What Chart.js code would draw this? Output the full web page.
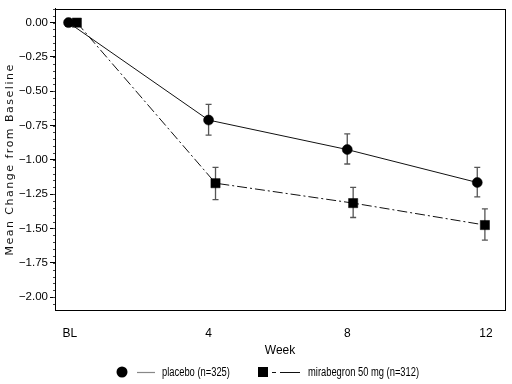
<!DOCTYPE html>
<html><head><meta charset="utf-8">
<script src="https://cdn.jsdelivr.net/npm/chart.js@4/dist/chart.umd.min.js"></script>
<style>html,body{margin:0;padding:0;background:#fff;}#wrap{width:512px;height:384px;}</style>
</head><body><div id="wrap"><canvas id="c" width="512" height="384"></canvas></div>
<script>
const weekTicks = [0, 4, 8, 12];
const weekLabels = ['BL', '4', '8', '12'];
const yTickValues = [0, -0.25, -0.5, -0.75, -1.0, -1.25, -1.5, -1.75, -2.0];
const seriesNames = ['placebo (n=325)', 'mirabegron 50 mg (n=312)'];
const axisTitleX = 'Week';
const axisTitleY = 'Mean Change from Baseline';

const placeboWeek = [-0.04, 4.0, 8.0, 11.75];
const placeboMean = [0.00, -0.71, -0.925, -1.165];
const placeboLow  = [0.00, -0.82, -1.03, -1.27];
const placeboHigh = [0.00, -0.595, -0.81, -1.055];

const miraWeek = [0.2, 4.2, 8.17, 11.97];
const miraMean = [0.00, -1.17, -1.315, -1.475];
const miraLow  = [0.00, -1.29, -1.42, -1.585];
const miraHigh = [0.00, -1.055, -1.20, -1.357];

const SANS = "'Liberation Sans', Arial, sans-serif";
const errLow = [placeboLow, miraLow];
const errHigh = [placeboHigh, miraHigh];
const weeks = [placeboWeek, miraWeek];

const pts = (xs, ys) => xs.map((x, i) => ({x: x, y: ys[i]}));

function narrowText(ctx, text, x, y, sx) {
  ctx.save();
  ctx.translate(x, y);
  ctx.scale(sx, 1);
  ctx.fillText(text, 0, 0);
  ctx.restore();
}

const errorBars = {
  id: 'errorBars',
  beforeDatasetsDraw(chart) {
    const {ctx, scales: {x, y}} = chart;
    ctx.save();
    ctx.strokeStyle = '#555';
    ctx.lineWidth = 1.3;
    weeks.forEach((ws, d) => {
      ws.forEach((w, i) => {
        const lo = errLow[d][i], hi = errHigh[d][i];
        if (lo === hi) return;
        const px = x.getPixelForValue(w);
        const p1 = y.getPixelForValue(hi), p2 = y.getPixelForValue(lo);
        ctx.beginPath();
        ctx.moveTo(px, p1); ctx.lineTo(px, p2);
        ctx.moveTo(px - 3, p1); ctx.lineTo(px + 3, p1);
        ctx.moveTo(px - 3, p2); ctx.lineTo(px + 3, p2);
        ctx.stroke();
      });
    });
    ctx.restore();
  }
};

const frameAndExtras = {
  id: 'frameAndExtras',
  afterDraw(chart) {
    const {ctx, chartArea: a, scales: {y}} = chart;
    ctx.save();
    ctx.strokeStyle = '#000';
    ctx.lineWidth = 1;
    ctx.strokeRect(Math.round(a.left) + 0.5, Math.round(a.top) + 0.5, Math.round(a.right - a.left), Math.round(a.bottom - a.top));
    ctx.strokeStyle = '#444';
    for (let v = 0.1; v >= -2.09; v -= 0.05) {
      const py = Math.round(y.getPixelForValue(v)) + 0.5;
      ctx.beginPath(); ctx.moveTo(a.left - 2, py); ctx.lineTo(a.left, py); ctx.stroke();
    }
    ctx.fillStyle = '#111';
    ctx.font = "11px 'DejaVu Sans', sans-serif";
    ctx.letterSpacing = '1.5px';
    ctx.textAlign = 'center';
    ctx.textBaseline = 'middle';
    ctx.translate(10, (a.top + a.bottom) / 2);
    ctx.rotate(-Math.PI / 2);
    ctx.fillText(axisTitleY, 0, 0);
    ctx.restore();

    ctx.save();
    const ly = 372;
    ctx.fillStyle = '#000';
    ctx.beginPath(); ctx.arc(122, ly, 5.5, 0, Math.PI * 2); ctx.fill();
    ctx.strokeStyle = '#888'; ctx.lineWidth = 1.2;
    ctx.beginPath(); ctx.moveTo(137, ly + 0.5); ctx.lineTo(155, ly + 0.5); ctx.stroke();
    ctx.fillRect(258, ly - 5, 10, 10);
    ctx.strokeStyle = '#111'; ctx.lineWidth = 1.2;
    ctx.beginPath(); ctx.moveTo(272, ly + 0.5); ctx.lineTo(276, ly + 0.5);
    ctx.moveTo(280, ly + 0.5); ctx.lineTo(300, ly + 0.5); ctx.stroke();
    ctx.font = "12px " + SANS;
    ctx.textAlign = 'left'; ctx.textBaseline = 'middle';
    ctx.fillStyle = '#000';
    narrowText(ctx, seriesNames[0], 162, ly + 1, 0.78);
    narrowText(ctx, seriesNames[1], 308, ly + 1, 0.78);
    ctx.restore();
  }
};

new Chart(document.getElementById('c'), {
  type: 'line',
  data: {
    datasets: [
      {
        label: seriesNames[0],
        data: pts(placeboWeek, placeboMean),
        borderColor: '#111', borderWidth: 1,
        pointStyle: 'circle', pointRadius: 5,
        pointBackgroundColor: '#000', pointBorderColor: '#000', pointBorderWidth: 0.5,
        tension: 0
      },
      {
        label: seriesNames[1],
        data: pts(miraWeek, miraMean),
        borderColor: '#111', borderWidth: 1, borderDash: [10, 3, 2, 3],
        pointStyle: 'rect', pointRadius: 6.5,
        pointBackgroundColor: '#000', pointBorderColor: '#000', pointBorderWidth: 0.5,
        tension: 0
      }
    ]
  },
  options: {
    responsive: false,
    animation: false,
    devicePixelRatio: 1,
    layout: {padding: {top: 5, right: 6, left: 0, bottom: 0}},
    plugins: {legend: {display: false}, tooltip: {enabled: false}},
    scales: {
      x: {
        type: 'linear', min: -0.43, max: 12.55,
        afterBuildTicks: s => { s.ticks = weekTicks.map(v => ({value: v})); },
        afterFit: s => { s.height = 74; },
        grid: {display: false},
        border: {display: true, color: '#000', width: 1},
        ticks: {
          callback: v => weekLabels[weekTicks.indexOf(v)],
          color: '#000', padding: 8, maxRotation: 0, autoSkip: false,
          font: {family: SANS, size: 12}
        },
        title: {display: true, text: axisTitleX, color: '#000', font: {family: SANS, size: 12}, padding: {top: 0, bottom: 26}}
      },
      y: {
        type: 'linear', min: -2.094, max: 0.1,
        afterBuildTicks: s => { s.ticks = yTickValues.map(v => ({value: v})); },
        afterFit: s => { s.width = 55; },
        grid: {drawOnChartArea: false, drawTicks: true, tickLength: 5, color: '#000'},
        border: {display: true, color: '#000', width: 1},
        ticks: {
          callback: v => v.toFixed(2).replace('-', '\u2212'),
          color: '#000', padding: 2,
          font: {family: SANS, size: 11.5}
        }
      }
    }
  },
  plugins: [errorBars, frameAndExtras]
});
</script></body></html>
